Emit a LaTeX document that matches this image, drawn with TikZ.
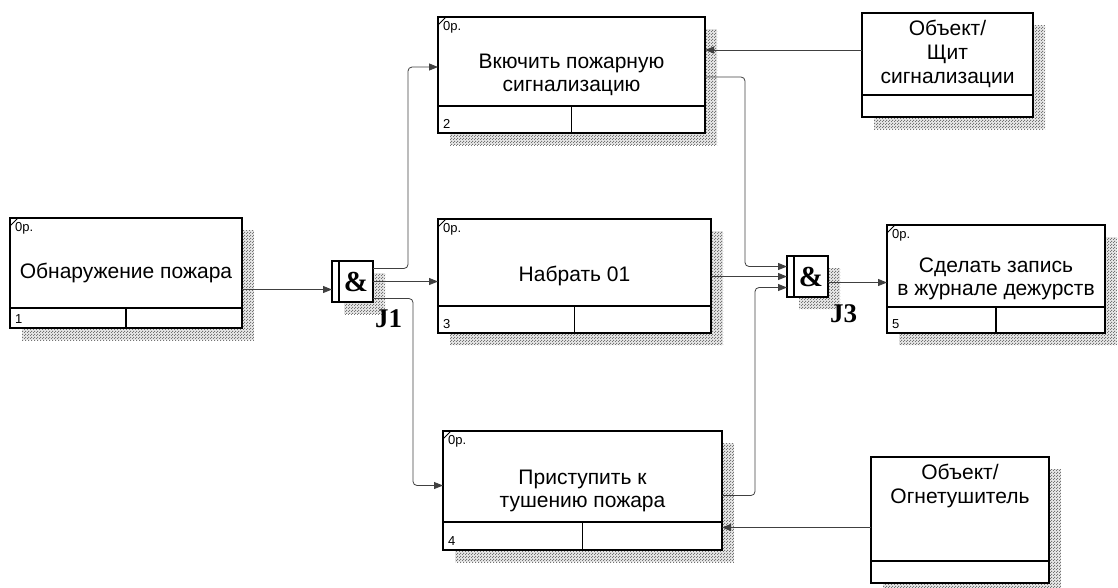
\documentclass[tikz,border=0pt]{standalone}
\usepackage{fontspec}
\setmainfont{Liberation Sans}
\newfontfamily\jfont{Liberation Serif}
\usetikzlibrary{arrows.meta,backgrounds,calc,patterns}

\pgfdeclarepatternformonly{idefdots}{\pgfqpoint{0pt}{0pt}}{\pgfqpoint{3pt}{3pt}}{\pgfqpoint{3pt}{3pt}}{
    \pgfpathrectangle{\pgfqpoint{0pt}{0pt}}{\pgfqpoint{1.3pt}{1.3pt}}
    \pgfpathrectangle{\pgfqpoint{1.5pt}{1.5pt}}{\pgfqpoint{1.3pt}{1.3pt}}
    \pgfusepath{fill}
}

\begin{document}
\begin{tikzpicture}[
            x=1pt, y=-1pt,
            uob/.style={
                draw,
                line width=1.5pt,
                fill=white,
                align=center,
                inner sep=0pt,
                outer sep=0pt,
                font=\fontsize{21}{23}\selectfont
            },
            obj/.style={
                draw,
                line width=1.5pt,
                fill=white,
                inner sep=0pt,
                outer sep=0pt
            },
            objtext/.style={
                anchor=north,
                align=center,
                inner sep=0pt,
                yshift=-7pt,
                font=\fontsize{21}{24}\selectfont
            },
            junc/.style={
                draw,
                line width=1.5pt,
                fill=white,
                minimum size=41pt,
                inner sep=0pt,
                outer sep=0pt
            },
            amp/.style={font=\jfont\bfseries\fontsize{29}{29}\selectfont, inner sep=0pt},
            jname/.style={font=\jfont\bfseries\fontsize{27}{27}\selectfont, inner sep=0pt},
            small/.style={font=\fontsize{13}{13}\selectfont, inner sep=0pt},
            divider/.style={line width=1.5pt},
            shadow/.style={pattern=idefdots, pattern color=black!55, preaction={fill=black!10}},
            flow/.style={-{Triangle[length=9pt,width=7pt]}, draw=black!75, line width=0.8pt, rounded corners=4pt}
        ]

            \useasboundingbox (0,0) rectangle (1118,587);

            % units of behaviour
            \node[uob, minimum width=232pt, minimum height=110pt] (b1) at (126,273)
                {Обнаружение пожара};
            \node[uob, minimum width=267pt, minimum height=116pt] (b2) at (571.5,75)
                {Вкючить пожарную\\сигнализацию};
            \node[uob, minimum width=273pt, minimum height=114pt] (b3) at (574.5,276)
                {Набрать 01};
            \node[uob, minimum width=279pt, minimum height=119pt] (b4) at (582.5,490.5)
                {Приступить к\\тушению пожара};
            \node[uob, minimum width=218pt, minimum height=108pt] (b5) at (996,279)
                {Сделать запись\\в журнале дежурств};

            % objects
            \node[obj, minimum width=171pt, minimum height=104pt,
                label={[objtext]north:Объект/\\Щит\\сигнализации}] (o1) at (947.5,65) {};
            \node[obj, minimum width=178pt, minimum height=126pt,
                label={[objtext]north:Объект/\\Огнетушитель}] (o2) at (960,520) {};

            % junctions
            \node[junc] (j1) at (352.5,281.5) {};
            \node[junc] (j3) at (807.5,276.5) {};

            \foreach \n/\d in {b1/20,b2/27,b3/27,b4/28,b5/26} {
                \draw[divider] ($(\n.south west)+(0,-\d)$) -- ($(\n.south east)+(0,-\d)$);
                \draw[divider] ($(\n.south)+(0,-\d)$) -- (\n.south);
            }
            \foreach \n/\k in {b1/1,b2/2,b3/3,b4/4,b5/5} {
                \draw[line width=1pt] ($(\n.north west)+(0,8)$) -- ($(\n.north west)+(8,0)$);
                \node[small, anchor=north west] (\n-ref) at ($(\n.north west)+(5,4)$) {0р.};
                \node[small, anchor=south west] (\n-num) at ($(\n.south west)+(5,-4)$) {\k};
            }
            \foreach \n in {o1,o2}
                \draw[divider] ($(\n.south west)+(0,-22)$) -- ($(\n.south east)+(0,-22)$);

            \foreach \n/\t in {j1/J1,j3/J3} {
                \draw[divider] ($(\n.north west)+(7,0)$) -- ($(\n.south west)+(7,0)$);
                \node[amp] (\n-amp) at ($(\n)+(3.5,0)$) {\&};
                \node[jname] (\n-name) at ($(\n)+(36,37)$) {\t};
            }

            % shadows
            \begin{scope}[on background layer]
                \foreach \n in {b1,b2,b3,b4,b5,o1,o2,j1,j3}
                    \fill[shadow] ($(\n.north west)+(12,12)$) rectangle ($(\n.south east)+(12,12)$);
            \end{scope}

            % connectors
            \coordinate (j1in) at ([yshift=-8pt]j1.west);
            \coordinate (j3out) at ([yshift=-6pt]j3.east);
            \coordinate (b2in) at ([yshift=25pt]b2.east);
            \coordinate (b4in) at ([yshift=-37pt]b4.east);

            \draw[flow] (b1.east |- j1in) -- (j1in);
            \draw[flow] (j1.east) -- (j1.east -| b3.west);
            \draw[flow] ([yshift=13pt]j1.east) -- ++(35,0) |- ([yshift=8pt]b2.west);
            \draw[flow] ([yshift=-17pt]j1.east) -- ++(40,0) |- ([yshift=5pt]b4.west);

            \draw[flow] ([yshift=-2pt]b2.east) -- ++(40,0) |- ([yshift=10pt]j3.west);
            \draw[flow] (j3.west -| b3.east) -- (j3.west);
            \draw[flow] ([yshift=-5pt]b4.east) -- ++(33,0) |- ([yshift=-11pt]j3.west);
            \draw[flow] (j3out) -- (j3out -| b5.west);

            \draw[flow] (o1.west |- b2in) -- (b2in);
            \draw[flow] (o2.west |- b4in) -- (b4in);

        \end{tikzpicture}
\end{document}
